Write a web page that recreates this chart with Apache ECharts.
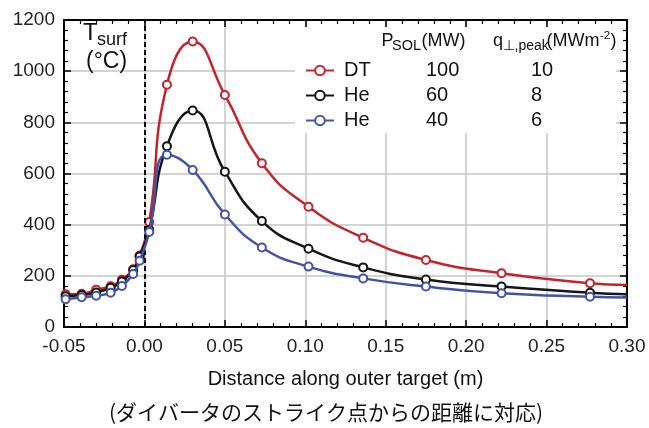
<!DOCTYPE html>
<html>
<head>
<meta charset="utf-8">
<script src="https://cdn.jsdelivr.net/npm/echarts@6/dist/echarts.min.js"></script>
<style>html,body{margin:0;padding:0;background:#fff}#c{width:649px;height:428px}</style>
</head>
<body>
<div id="c"></div>
<script>
const xDist = [-0.049, -0.039, -0.030, -0.021, -0.014, -0.007, -0.003, 0.003, 0.014, 0.030, 0.050, 0.073, 0.102, 0.136, 0.175, 0.222, 0.277, 0.300];
const tRedDT = [128, 130, 146, 159, 185, 226, 279, 410, 947, 1116, 907, 640, 470, 349, 262, 210, 171, 164];
const tBlackHe60 = [120, 125, 135, 153, 178, 223, 276, 380, 707, 846, 607, 414, 306, 233, 186, 158, 134, 128];
const tBlueHe40 = [108, 116, 122, 134, 160, 207, 259, 371, 673, 614, 440, 311, 236, 190, 158, 132, 118, 115];
const legendLabels = ['DT', 'He', 'He'];
const psolValues = [100, 60, 40];
const qpeakValues = [10, 8, 6];
const seriesNames = ['DT 100', 'He 60', 'He 40'];
const seriesColors = ['#c4232b', '#161616', '#4253a6'];
const xTicks = {min: -0.05, max: 0.30, interval: 0.05};
const yTicks = {min: 0, max: 1200, interval: 200};

const FONT = "'Liberation Sans', Arial, sans-serif";
const chart = echarts.init(document.getElementById('c'), null, {renderer: 'canvas'});

function pts(ys) {
  return xDist.map((x, i) => i === xDist.length - 1 ? {value: [x, ys[i]], symbol: 'none'} : [x, ys[i]]);
}
const allY = [tRedDT, tBlackHe60, tBlueHe40];

const series = allY.map((ys, i) => ({
  name: seriesNames[i],
  type: 'line',
  data: pts(ys),
  smooth: 0.5,
  symbol: 'emptyCircle',
  symbolSize: 8,
  showAllSymbol: true,
  z: 3 + i,
  lineStyle: {color: seriesColors[i], width: 2.5},
  itemStyle: {color: seriesColors[i], borderColor: seriesColors[i], borderWidth: 1.6},
  emphasis: {disabled: true},
  markLine: i === 0 ? {
    silent: true, symbol: 'none', label: {show: false},
    lineStyle: {color: '#000', type: [5, 3], width: 2},
    data: [{xAxis: 0}]
  } : undefined
}));

const axisCommon = {
  axisLine: {show: true, onZero: false, lineStyle: {color: '#000', width: 2}},
  axisTick: {show: true, inside: true, length: 7, lineStyle: {color: '#000', width: 1.5}},
  minorTick: {show: true, splitNumber: 5, length: 4, lineStyle: {color: '#000', width: 1.2}},
};

chart.setOption({
  animation: false,
  backgroundColor: '#fff',
  grid: {left: 64, right: 22, top: 20, bottom: 101},
  xAxis: [
    Object.assign({
      type: 'value', min: xTicks.min, max: xTicks.max, interval: xTicks.interval,
      name: 'Distance along outer target (m)', nameLocation: 'middle', nameGap: 42,
      nameTextStyle: {fontFamily: FONT, fontSize: 20, color: '#111'},
      axisLabel: {fontFamily: FONT, fontSize: 19, color: '#222', margin: 10,
        formatter: v => (Math.abs(v) < 1e-9 ? 0 : v).toFixed(2)},
      splitLine: {show: true, lineStyle: {color: '#c4c4c4', width: 1.5}},
    }, axisCommon),
    Object.assign({
      type: 'value', position: 'top', min: xTicks.min, max: xTicks.max, interval: xTicks.interval,
      axisLabel: {show: false}, splitLine: {show: false}
    }, axisCommon)
  ],
  yAxis: [
    Object.assign({
      type: 'value', min: yTicks.min, max: yTicks.max, interval: yTicks.interval,
      axisLabel: {fontFamily: FONT, fontSize: 19, color: '#222', margin: 9, formatter: v => String(v)},
      splitLine: {show: true, lineStyle: {color: '#c4c4c4', width: 1.5}},
    }, axisCommon),
    Object.assign({
      type: 'value', position: 'right', min: yTicks.min, max: yTicks.max, interval: yTicks.interval,
      axisLabel: {show: false}, splitLine: {show: false}
    }, axisCommon)
  ],
  legend: {
    show: true, orient: 'vertical', left: 305, top: 60.5,
    itemWidth: 28, itemHeight: 12, itemGap: 5, padding: 0,
    data: seriesNames, selectedMode: false,
    formatter: name => {
      const i = seriesNames.indexOf(name);
      return `{g| }{n|${legendLabels[i]}}{p|${psolValues[i]}}{q|${qpeakValues[i]}}`;
    },
    textStyle: {
      fontFamily: FONT, fontSize: 20, color: '#111', lineHeight: 20,
      rich: {
        g: {width: 5, fontSize: 20, lineHeight: 20, fontFamily: FONT},
        n: {width: 82, fontSize: 20, lineHeight: 20, fontFamily: FONT, color: '#111'},
        p: {width: 105, fontSize: 20, lineHeight: 20, fontFamily: FONT, color: '#111'},
        q: {fontSize: 20, lineHeight: 20, fontFamily: FONT, color: '#111'}
      }
    }
  },
  graphic: [
    {type: 'rect', z: 1, silent: true, shape: {x: 295, y: 27, width: 321, height: 106}, style: {fill: '#fff'}},
    {type: 'text', z: 10, x: 83, y: 33.5, style: {text: 'T', font: `24px ${FONT}`, fill: '#111', verticalAlign: 'middle', align: 'left'}},
    {type: 'text', z: 10, x: 97, y: 40.5, style: {text: 'surf', font: `18px ${FONT}`, fill: '#111', verticalAlign: 'middle', align: 'left'}},
    {type: 'text', z: 10, x: 86, y: 62, style: {text: '(°C)', font: `23px ${FONT}`, fill: '#111', verticalAlign: 'middle', align: 'left'}},
    {type: 'text', z: 10, x: 381.5, y: 40.8, style: {text: 'P', font: `18px ${FONT}`, fill: '#111', verticalAlign: 'middle', align: 'left'}},
    {type: 'text', z: 10, x: 392, y: 46, style: {text: 'SOL', font: `14.5px ${FONT}`, fill: '#111', verticalAlign: 'middle', align: 'left'}},
    {type: 'text', z: 10, x: 421.5, y: 40.8, style: {text: '(MW)', font: `18px ${FONT}`, fill: '#111', verticalAlign: 'middle', align: 'left'}},
    {type: 'text', z: 10, x: 493, y: 40.8, style: {text: 'q', font: `18px ${FONT}`, fill: '#111', verticalAlign: 'middle', align: 'left'}},
    {type: 'text', z: 10, x: 502.5, y: 46, style: {text: '⊥,peak', font: `14px ${FONT}`, fill: '#111', verticalAlign: 'middle', align: 'left'}},
    {type: 'text', z: 10, x: 546.5, y: 40.8, style: {text: '(MWm', font: `18px ${FONT}`, fill: '#111', verticalAlign: 'middle', align: 'left'}},
    {type: 'text', z: 10, x: 600, y: 35.5, style: {text: '-2', font: `11.5px ${FONT}`, fill: '#111', verticalAlign: 'middle', align: 'left'}},
    {type: 'text', z: 10, x: 610.5, y: 40.8, style: {text: ')', font: `18px ${FONT}`, fill: '#111', verticalAlign: 'middle', align: 'left'}},
    {type: 'text', z: 10, x: 326, y: 412, style: {text: '(ダイバータのストライク点からの距離に対応)', font: `21px 'Noto Sans CJK JP', sans-serif`, fill: '#111', verticalAlign: 'middle', align: 'center'}}
  ],
  series: series
});
</script>
</body>
</html>
